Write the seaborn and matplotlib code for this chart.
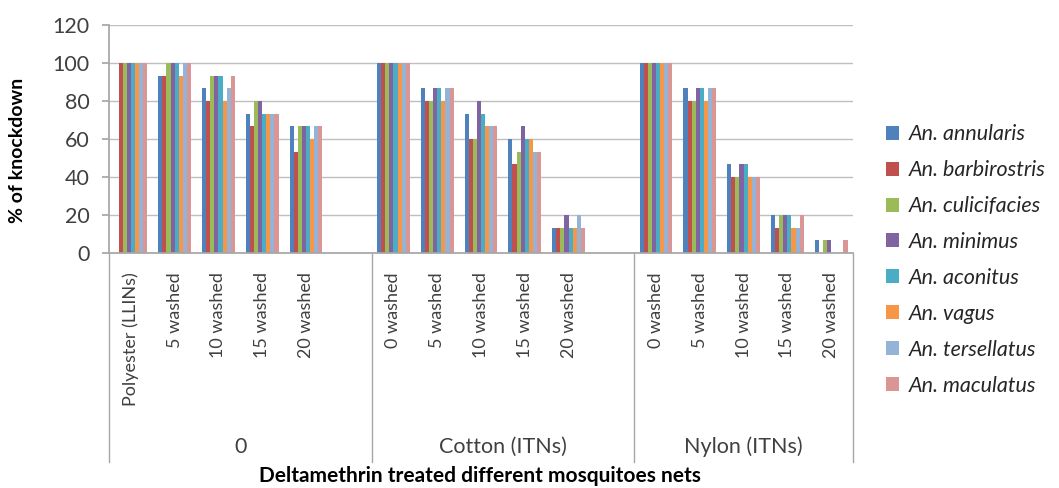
import matplotlib
matplotlib.use("Agg")
import matplotlib.pyplot as plt
import seaborn as sns
import pandas as pd
from matplotlib.transforms import blended_transform_factory

# Mosquito species (series) and their colours
species = ["An. annularis", "An. barbirostris", "An. culicifacies", "An. minimus",
           "An. aconitus", "An. vagus", "An. tersellatus", "An. maculatus"]
colors = ["#4F81BD", "#C0504D", "#9BBB59", "#8064A2",
          "#4BACC6", "#F79646", "#95B3D7", "#D99694"]

# Category slots along the x axis ("" = empty spacer slot between net types)
slot_labels = ["Polyester (LLINs)", "5 washed", "10 washed", "15 washed", "20 washed", "",
               "0 washed", "5 washed", "10 washed", "15 washed", "20 washed", "",
               "0 washed", "5 washed", "10 washed", "15 washed", "20 washed"]
group_labels = ["0", "Cotton (ITNs)", "Nylon (ITNs)"]
group_sizes = [6, 6, 5]

# % knockdown per species, for the 15 non-empty slots in order
annularis     = [0, 93.3, 86.7, 73.3, 66.7, 100, 86.7, 73.3, 60.0, 13.3, 100, 86.7, 46.7, 20.0, 6.7]
barbirostris  = [100, 93.3, 80.0, 66.7, 53.3, 100, 80.0, 60.0, 46.7, 13.3, 100, 80.0, 40.0, 13.3, 0]
culicifacies  = [100, 100, 93.3, 80.0, 66.7, 100, 80.0, 60.0, 53.3, 13.3, 100, 80.0, 40.0, 20.0, 6.7]
minimus       = [100, 100, 93.3, 80.0, 66.7, 100, 86.7, 80.0, 66.7, 20.0, 100, 86.7, 46.7, 20.0, 6.7]
aconitus      = [100, 100, 93.3, 73.3, 66.7, 100, 86.7, 73.3, 60.0, 13.3, 100, 86.7, 46.7, 20.0, 0]
vagus         = [100, 93.3, 80.0, 73.3, 60.0, 100, 80.0, 66.7, 60.0, 13.3, 100, 80.0, 40.0, 13.3, 0]
tersellatus   = [100, 100, 86.7, 73.3, 66.7, 100, 86.7, 66.7, 53.3, 20.0, 100, 86.7, 40.0, 13.3, 0]
maculatus     = [100, 100, 93.3, 73.3, 66.7, 100, 86.7, 66.7, 53.3, 13.3, 100, 86.7, 40.0, 20.0, 6.7]
series = [annularis, barbirostris, culicifacies, minimus, aconitus, vagus, tersellatus, maculatus]

# Long-format table
used_slots = [i for i, lab in enumerate(slot_labels) if lab != ""]
rows = []
for name, vals in zip(species, series):
    for slot, v in zip(used_slots, vals):
        rows.append({"slot": slot, "species": name, "pct": v})
df = pd.DataFrame(rows)

sns.set_theme(style="white")
plt.rcParams["font.family"] = ["Lato", "DejaVu Sans"]

fig = plt.figure(figsize=(10.59, 4.88), dpi=100)
ax = fig.add_axes([109 / 1059, 1 - 253 / 488, (853 - 109) / 1059, (253 - 25) / 488])

n_slots = len(slot_labels)
sns.barplot(data=df, x="slot", y="pct", hue="species", order=list(range(n_slots)),
            hue_order=species, palette=colors, width=0.75, gap=0, saturation=1,
            linewidth=0, errorbar=None, ax=ax)

ax.set_xlim(-0.5, n_slots - 0.5)
ax.set_ylim(0, 120)
ax.set_yticks(range(0, 121, 20))
ax.yaxis.grid(True, color="#BFBFBF", linewidth=1)
ax.set_axisbelow(True)
for s in ["top", "right"]:
    ax.spines[s].set_visible(False)
ax.spines["left"].set_color("#A6A6A6")
ax.spines["bottom"].set_color("#A6A6A6")

ax.tick_params(axis="y", left=True, length=5, color="#A6A6A6", pad=9,
               labelsize=15.5, labelcolor="#404040")
ax.set_xticks(range(n_slots))
ax.set_xticklabels(slot_labels, rotation=90, va="top", ha="center")
ax.tick_params(axis="x", length=0, pad=14, labelsize=13, labelcolor="#404040")
ax.set_xlabel("")
ax.set_ylabel("")

# Group separators and group labels beneath the category labels
trans = blended_transform_factory(ax.transData, ax.transAxes)
edges = [-0.5]
for g in group_sizes:
    edges.append(edges[-1] + g)
for x in edges:
    ax.plot([x, x], [0, -0.917], transform=trans, color="#A6A6A6",
            linewidth=1, clip_on=False)
for lab, a, b in zip(group_labels, edges[:-1], edges[1:]):
    ax.text((a + b) / 2, -0.851, lab, transform=trans, ha="center", va="center",
            fontsize=15.5, color="#404040")

fig.text(18 / 1059, 1 - 150 / 488, "% of knockdown", rotation=90, ha="center",
         va="center", fontsize=14, fontweight="bold", color="black")
fig.text(480 / 1059, 1 - 476 / 488, "Deltamethrin treated different mosquitoes nets",
         ha="center", va="center", fontsize=15, fontweight="bold", color="black")

sns.move_legend(ax, loc="center left", bbox_to_anchor=(886 / 1059, 1 - 260 / 488),
                bbox_transform=fig.transFigure, frameon=False, title=None,
                prop={"style": "italic", "size": 15.5}, handlelength=0.62,
                handleheight=0.62, handletextpad=0.45, labelspacing=0.74,
                borderpad=0, borderaxespad=0)

fig.savefig("out.png", dpi=100, facecolor="white")
